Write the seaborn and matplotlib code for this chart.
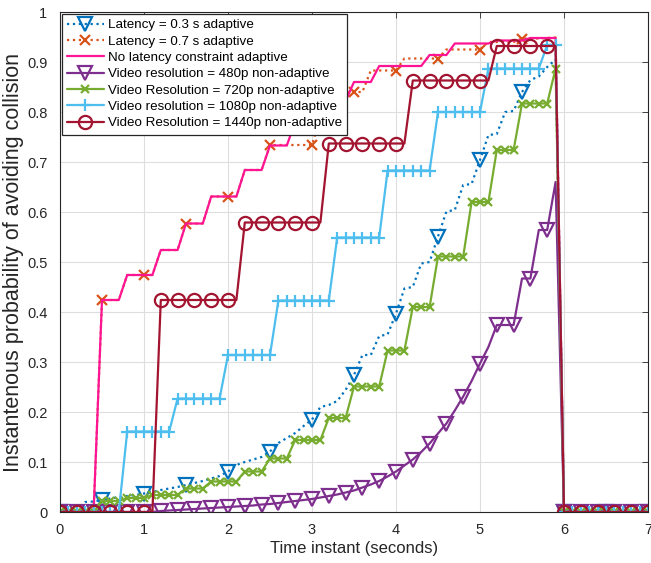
import numpy as np
import pandas as pd
import matplotlib
matplotlib.use("Agg")
import matplotlib.pyplot as plt
import seaborn as sns

# sample instants (0.1 s spacing, 0 .. 7 s)
time_s = np.linspace(0, 7, 71)

lat03 = [0, 0, 0, 0.020, 0.021, 0.024, 0.027, 0.030, 0.032, 0.034,
         0.037, 0.040, 0.044, 0.047, 0.050, 0.054, 0.058, 0.062, 0.067, 0.072,
         0.081, 0.094, 0.100, 0.105, 0.110, 0.121, 0.138, 0.148, 0.158, 0.172,
         0.185, 0.210, 0.214, 0.222, 0.244, 0.274, 0.314, 0.314, 0.352, 0.355,
         0.397, 0.447, 0.450, 0.497, 0.500, 0.551, 0.601, 0.604, 0.654, 0.656,
         0.704, 0.754, 0.756, 0.800, 0.802, 0.840, 0.864, 0.871, 0.890, 0.905,
         0, 0, 0, 0, 0, 0, 0, 0, 0, 0, 0]

lat07 = [0, 0, 0, 0, 0, 0.424, 0.424, 0.424, 0.474, 0.474,
         0.474, 0.474, 0.524, 0.524, 0.524, 0.577, 0.577, 0.577, 0.631, 0.631,
         0.631, 0.631, 0.684, 0.684, 0.684, 0.734, 0.734, 0.734, 0.734, 0.734,
         0.734, 0.790, 0.790, 0.790, 0.840, 0.840, 0.840, 0.883, 0.883, 0.883,
         0.883, 0.907, 0.907, 0.907, 0.907, 0.907, 0.925, 0.925, 0.925, 0.925,
         0.925, 0.940, 0.940, 0.940, 0.940, 0.947, 0.947, 0.947, 0.948, 0.949,
         0, 0, 0, 0, 0, 0, 0, 0, 0, 0, 0]

nolat = [0, 0, 0, 0, 0, 0.424, 0.424, 0.424, 0.474, 0.474,
         0.474, 0.474, 0.524, 0.524, 0.524, 0.577, 0.577, 0.577, 0.631, 0.631,
         0.631, 0.631, 0.684, 0.684, 0.684, 0.733, 0.733, 0.733, 0.780, 0.780,
         0.780, 0.780, 0.822, 0.822, 0.822, 0.860, 0.860, 0.860, 0.892, 0.892,
         0.892, 0.892, 0.892, 0.892, 0.914, 0.914, 0.914, 0.937, 0.937, 0.937,
         0.937, 0.937, 0.943, 0.943, 0.943, 0.943, 0.948, 0.948, 0.948, 0.948,
         0, 0, 0, 0, 0, 0, 0, 0, 0, 0, 0]

res480 = [0, 0, 0, 0, 0, 0, 0, 0, 0, 0,
          0, 0, 0.002, 0.003, 0.004, 0.005, 0.006, 0.007, 0.008, 0.009,
          0.010, 0.011, 0.012, 0.013, 0.015, 0.016, 0.018, 0.020, 0.022, 0.024,
          0.026, 0.029, 0.032, 0.035, 0.039, 0.043, 0.049, 0.055, 0.062, 0.071,
          0.081, 0.093, 0.105, 0.120, 0.137, 0.157, 0.177, 0.203, 0.231, 0.262,
          0.297, 0.330, 0.374, 0.374, 0.374, 0.467, 0.467, 0.564, 0.564, 0.660,
          0, 0, 0, 0, 0, 0, 0, 0, 0, 0, 0]

res720 = [0, 0, 0, 0, 0, 0.022, 0.022, 0.022, 0.028, 0.028,
          0.028, 0.034, 0.034, 0.034, 0.034, 0.047, 0.047, 0.047, 0.061, 0.061,
          0.061, 0.061, 0.081, 0.081, 0.081, 0.107, 0.107, 0.107, 0.144, 0.144,
          0.144, 0.144, 0.188, 0.188, 0.188, 0.251, 0.251, 0.251, 0.251, 0.323,
          0.323, 0.323, 0.410, 0.410, 0.410, 0.511, 0.511, 0.511, 0.511, 0.620,
          0.620, 0.620, 0.724, 0.724, 0.724, 0.817, 0.817, 0.817, 0.817, 0.887,
          0, 0, 0, 0, 0, 0, 0, 0, 0, 0, 0]

res1080 = [0, 0, 0, 0, 0, 0, 0, 0, 0.161, 0.161,
           0.161, 0.161, 0.161, 0.161, 0.227, 0.227, 0.227, 0.227, 0.227, 0.227,
           0.314, 0.314, 0.314, 0.314, 0.314, 0.314, 0.423, 0.423, 0.423, 0.423,
           0.423, 0.423, 0.423, 0.549, 0.549, 0.549, 0.549, 0.549, 0.549, 0.683,
           0.683, 0.683, 0.683, 0.683, 0.683, 0.800, 0.800, 0.800, 0.800, 0.800,
           0.800, 0.887, 0.887, 0.887, 0.887, 0.887, 0.887, 0.887, 0.934, 0.934,
           0, 0, 0, 0, 0, 0, 0, 0, 0, 0, 0]

res1440 = [0, 0, 0, 0, 0, 0, 0, 0, 0, 0,
           0, 0, 0.424, 0.424, 0.424, 0.424, 0.424, 0.424, 0.424, 0.424,
           0.424, 0.424, 0.579, 0.579, 0.579, 0.579, 0.579, 0.579, 0.579, 0.579,
           0.579, 0.579, 0.737, 0.737, 0.737, 0.737, 0.737, 0.737, 0.737, 0.737,
           0.737, 0.737, 0.863, 0.863, 0.863, 0.863, 0.863, 0.863, 0.863, 0.863,
           0.863, 0.863, 0.932, 0.932, 0.932, 0.932, 0.932, 0.932, 0.932, 0.932,
           0, 0, 0, 0, 0, 0, 0, 0, 0, 0, 0]

labels = ["Latency = 0.3 s adaptive",
          "Latency = 0.7 s adaptive",
          "No latency constraint adaptive",
          "Video resolution = 480p non-adaptive",
          "Video Resolution = 720p non-adaptive",
          "Video resolution = 1080p non-adaptive",
          "Video Resolution = 1440p non-adaptive"]

series = [lat03, lat07, nolat, res480, res720, res1080, res1440]

styles = [
    dict(color="#0072BD", linestyle=":", marker="v", markevery=5, markersize=10, markerfacecolor="none"),
    dict(color="#D95319", linestyle=":", marker="x", markevery=5, markersize=6.5),
    dict(color="#FF1493", linestyle="-", marker=None),
    dict(color="#7E2F8E", linestyle="-", marker="v", markevery=2, markersize=10, markerfacecolor="none"),
    dict(color="#77AC30", linestyle="-", marker="x", markevery=1, markersize=6),
    dict(color="#4DBEEE", linestyle="-", marker="+", markevery=1, markersize=8),
    dict(color="#A2142F", linestyle="-", marker="o", markevery=2, markersize=9.5, markerfacecolor="none"),
]

sns.set_theme(style="whitegrid")
plt.rcParams['font.family'] = ['Liberation Sans', 'DejaVu Sans']

fig = plt.figure(figsize=(6.51, 5.63), dpi=100)
ax = fig.add_axes([60 / 651, 51 / 563, 588 / 651, 500 / 563])
ax.set_facecolor("white")

for vals, lab, st in zip(series, labels, styles):
    st = dict(st)
    kw = dict(linewidth=1.6, markeredgewidth=1.6, markeredgecolor=st["color"])
    kw.update(st)
    if kw["marker"] is None:
        kw.pop("marker")
        kw.pop("markeredgewidth")
        kw.pop("markeredgecolor")
    sns.lineplot(x=time_s, y=vals, ax=ax, label=lab, errorbar=None, **kw)

ax.set_xlim(0, 7)
ax.set_ylim(0, 1)
ax.set_xticks(range(0, 8))
yt = [i / 10 for i in range(11)]
ax.set_yticks(yt)
ax.set_yticklabels(["0"] + [f"{v:.1f}" for v in yt[1:-1]] + ["1"])
ax.grid(True, color="#dedede", linewidth=0.8)
for sp in ax.spines.values():
    sp.set_visible(True)
    sp.set_color("#262626")
    sp.set_linewidth(0.8)
ax.tick_params(direction="in", top=True, right=True, length=4, width=0.6,
               colors="#262626", labelsize=10.5)
ax.tick_params(axis="y", pad=9)
ax.tick_params(axis="x", pad=8)
ax.set_xlabel("Time instant (seconds)", fontsize=12, color="#262626", labelpad=3)
ax.set_ylabel("Instantenous probability of avoiding collision", fontsize=15.5,
              color="#262626", labelpad=2)

leg = ax.legend(loc="upper left", fontsize=9.6, frameon=True, fancybox=False,
                framealpha=1, edgecolor="#262626", borderaxespad=0.12,
                handlelength=2.75, handletextpad=0.3, labelspacing=0.3,
                borderpad=0.4)
leg.get_frame().set_linewidth(0.9)
for t in leg.get_texts():
    t.set_color("black")

fig.savefig("out.png", dpi=100)
